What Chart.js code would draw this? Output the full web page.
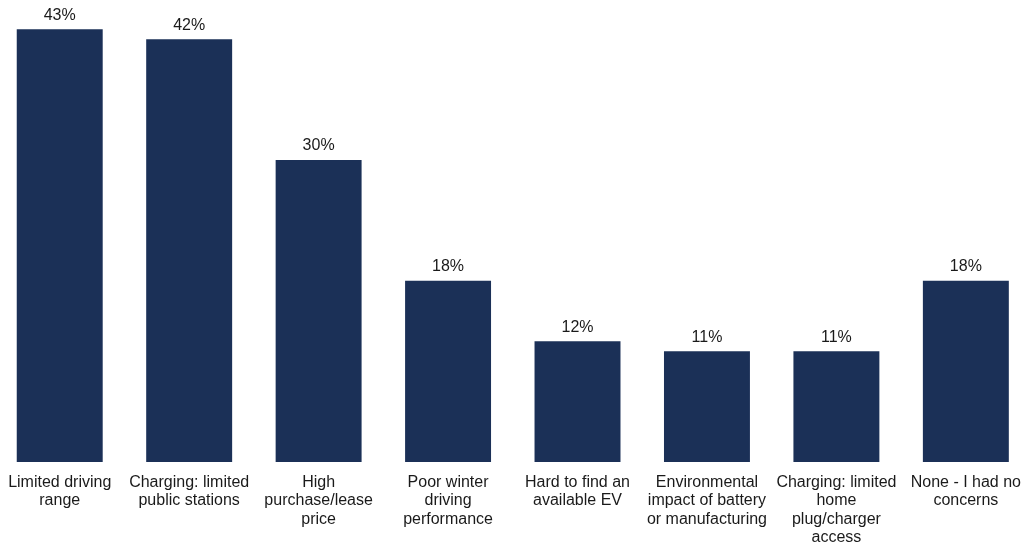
<!DOCTYPE html>
<html>
<head>
<meta charset="utf-8">
<script src="https://cdn.jsdelivr.net/npm/chart.js@4"></script>
<style>
  html, body { margin: 0; padding: 0; background: #fff; overflow: hidden; }
  #wrap { position: absolute; left: -5px; top: 0; width: 1037px; height: 545px; }
</style>
</head>
<body>
<div id="wrap"><canvas id="chart"></canvas></div>
<script>
// ─── Data ──────────────────────────────────────────────────────────────────
const categories = [
  ['Limited driving', 'range'],
  ['Charging: limited', 'public stations'],
  ['High', 'purchase/lease', 'price'],
  ['Poor winter', 'driving', 'performance'],
  ['Hard to find an', 'available EV'],
  ['Environmental', 'impact of battery', 'or manufacturing'],
  ['Charging: limited', 'home', 'plug/charger', 'access'],
  ['None - I had no', 'concerns'],
];
const shares = [43, 42, 30, 18, 12, 11, 11, 18];

const NAVY = '#1b3057';
const FONT = '"Liberation Sans", Arial, sans-serif';

// ─── Value labels above bars ───────────────────────────────────────────────
const valueLabels = {
  id: 'valueLabels',
  afterDatasetsDraw(chart) {
    const { ctx } = chart;
    const meta = chart.getDatasetMeta(0);
    ctx.save();
    ctx.font = `16px ${FONT}`;
    ctx.fillStyle = '#1a1a1a';
    ctx.textAlign = 'center';
    ctx.textBaseline = 'bottom';
    meta.data.forEach((bar, i) => {
      ctx.fillText(`${shares[i]}%`, bar.x, bar.y - 6);
    });
    ctx.restore();
  }
};

// ─── Chart ─────────────────────────────────────────────────────────────────
new Chart(document.getElementById('chart'), {
  type: 'bar',
  data: {
    labels: categories,
    datasets: [{
      data: shares,
      backgroundColor: NAVY,
      borderWidth: 0,
      categoryPercentage: 1,
      barPercentage: 0.664,
    }]
  },
  options: {
    responsive: true, maintainAspectRatio: false, animation: false,
    layout: { padding: { top: 9, bottom: 0, left: 0, right: 0 } },
    plugins: { legend: { display: false }, tooltip: { enabled: false } },
    scales: {
      x: {
        grid: { display: false, drawTicks: false },
        border: { display: false },
        ticks: {
          color: '#1a1a1a', padding: 11, autoSkip: false, maxRotation: 0, minRotation: 0,
          font: { family: FONT, size: 16, lineHeight: 1.16 },
        },
        afterFit(scale) { scale.height = 83; },
      },
      y: { display: false, min: 0, max: 45 },
    }
  },
  plugins: [valueLabels]
});
</script>
</body>
</html>
